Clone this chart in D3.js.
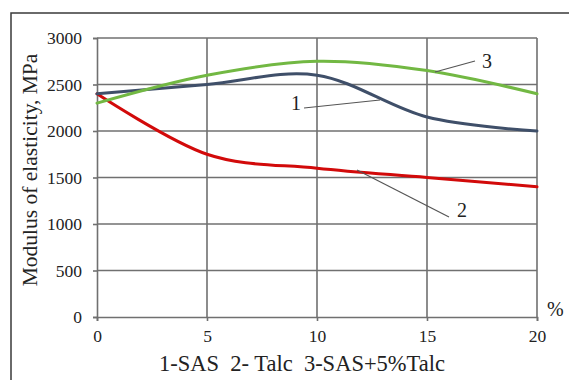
<!DOCTYPE html>
<html>
<head>
<meta charset="utf-8">
<script src="https://cdn.jsdelivr.net/npm/d3@7"></script>
<style>
  html, body { margin: 0; padding: 0; background: #fff; }
  svg { display: block; }
  svg text { font-family: "Liberation Serif", "Times New Roman", Times, "DejaVu Serif", serif !important; }
</style>
</head>
<body>
<svg id="chart" width="569" height="380"></svg>
<script>
// Talc content, %
const talcPercent = [0, 5, 10, 15, 20];
// Modulus of elasticity, MPa
const sasValues = [2400, 2500, 2600, 2150, 2000];       // 1-SAS
const talcValues = [2400, 1750, 1600, 1500, 1400];      // 2- Talc
const sasTalcValues = [2300, 2600, 2750, 2650, 2400];   // 3-SAS+5%Talc
const xTicks = [0, 5, 10, 15, 20];
const yTicks = [0, 500, 1000, 1500, 2000, 2500, 3000];
const seriesNames = ["1", "2", "3"];

const svg = d3.select("#chart");
const plot = { left: 97, right: 537, top: 38, bottom: 317 };

const x = d3.scaleLinear().domain([0, 20]).range([plot.left, plot.right]);
const y = d3.scaleLinear().domain([0, 3000]).range([plot.bottom, plot.top]);

// outer frame
svg.append("rect")
  .attr("x", 11).attr("y", 13)
  .attr("width", 620).attr("height", 420)
  .attr("fill", "none").attr("stroke", "#3a3a3a").attr("stroke-width", 1.5);

const gridColor = "#707070";

// y axis with full-width grid lines
const yAxis = svg.append("g")
  .attr("transform", `translate(${plot.left},0)`)
  .call(d3.axisLeft(y).tickValues(yTicks).tickSize(4).tickPadding(11).tickFormat(d3.format("d")));
yAxis.select(".domain").attr("stroke", gridColor).attr("stroke-width", 1.6);
yAxis.selectAll(".tick line").attr("stroke", gridColor).attr("stroke-width", 1.6);
yAxis.selectAll(".tick text").attr("font-size", 17.5).attr("fill", "#222");

svg.append("g").selectAll("line")
  .data(yTicks.filter(d => d > 0))
  .join("line")
  .attr("x1", plot.left).attr("x2", plot.right)
  .attr("y1", d => y(d)).attr("y2", d => y(d))
  .attr("stroke", gridColor).attr("stroke-width", 1.6);

// x axis with vertical grid lines
const xAxis = svg.append("g")
  .attr("transform", `translate(0,${plot.bottom})`)
  .call(d3.axisBottom(x).tickValues(xTicks).tickSize(4).tickPadding(9).tickFormat(d3.format("d")));
xAxis.select(".domain").attr("stroke", gridColor).attr("stroke-width", 1.6);
xAxis.selectAll(".tick line").attr("stroke", gridColor).attr("stroke-width", 1.6);
xAxis.selectAll(".tick text").attr("font-size", 17.5).attr("fill", "#222");

svg.append("g").selectAll("line")
  .data(xTicks.filter(d => d > 0))
  .join("line")
  .attr("x1", d => x(d)).attr("x2", d => x(d))
  .attr("y1", plot.top).attr("y2", plot.bottom)
  .attr("stroke", gridColor).attr("stroke-width", 1.6);

// smoothed data lines
const line = d3.line()
  .x((d, i) => x(talcPercent[i]))
  .y(d => y(d))
  .curve(d3.curveCardinal.tension(0));

const series = [
  { values: talcValues, color: "#d20a0a" },
  { values: sasValues, color: "#3f4f69" },
  { values: sasTalcValues, color: "#72b843" }
];
svg.append("g").selectAll("path")
  .data(series)
  .join("path")
  .attr("d", d => line(d.values))
  .attr("fill", "none")
  .attr("stroke", d => d.color)
  .attr("stroke-width", 3)
  .attr("stroke-linecap", "round");

// series number callouts with leader lines
const callouts = [
  { name: seriesNames[0], lx1: 304, ly1: 108, lx2: 380, ly2: 100, tx: 296, ty: 110 },
  { name: seriesNames[1], lx1: 357, ly1: 170, lx2: 449, ly2: 217, tx: 462, ty: 217 },
  { name: seriesNames[2], lx1: 435, ly1: 72, lx2: 475, ly2: 61, tx: 487, ty: 68 }
];
const cg = svg.append("g");
cg.selectAll("line")
  .data(callouts)
  .join("line")
  .attr("x1", d => d.lx1).attr("y1", d => d.ly1)
  .attr("x2", d => d.lx2).attr("y2", d => d.ly2)
  .attr("stroke", "#555").attr("stroke-width", 1.2);
cg.selectAll("text")
  .data(callouts)
  .join("text")
  .attr("x", d => d.tx).attr("y", d => d.ty)
  .attr("text-anchor", "middle")
  .attr("font-size", 20).attr("fill", "#222")
  .text(d => d.name);

// axis titles
svg.append("text")
  .attr("transform", "translate(37,170) rotate(-90)")
  .attr("text-anchor", "middle")
  .attr("font-size", 21.5).attr("fill", "#222")
  .text("Modulus of elasticity, MPa");

svg.append("text")
  .attr("x", 547).attr("y", 316)
  .attr("font-size", 20).attr("fill", "#222")
  .text("%");

svg.append("text")
  .attr("x", 302).attr("y", 371)
  .attr("text-anchor", "middle")
  .attr("font-size", 22.5).attr("fill", "#222")
  .attr("xml:space", "preserve")
  .text("1-SAS  2- Talc  3-SAS+5%Talc");
</script>
</body>
</html>
